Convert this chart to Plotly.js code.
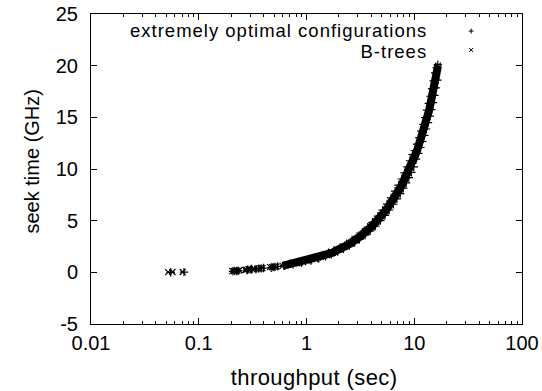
<!DOCTYPE html>
<html>
<head>
<meta charset="utf-8">
<script src="https://cdn.plot.ly/plotly-3.0.1.min.js"></script>
<style>
html,body{margin:0;padding:0;background:#fff;}
#chart{width:542px;height:391px;}
#chart .annotation[data-index="0"] text, #chart .annotation[data-index="1"] text{letter-spacing:1px;}
#chart .annotation[data-index="2"] text{letter-spacing:0.4px;}
</style>
</head>
<body>
<div id="chart"></div>
<script>
// Series names
const seriesNames = ["extremely optimal configurations", "B-trees"];

// "extremely optimal configurations" (+ markers)
const configX = [0.055,0.073,0.208,0.216,0.225,0.232,0.28,0.285,0.305,0.31,0.34,0.36,0.38,0.4,0.47,0.49,0.51,0.54,
  0.62,0.7,0.75,0.85,0.9,0.98,1.1,1.17,1.3,1.4,1.5,1.6,1.7,1.8,1.95,2.05,2.2,2.35,2.5,2.65,2.8,2.95,3.1,3.3,3.5,3.7,3.9,
  4.1,4.35,4.6,4.85,5.1,5.35,5.6,5.85,6.1,6.4,6.65,6.9,7.15,7.4,7.65,7.9,8.15,8.4,8.65,8.9,9.15,9.4,9.65,9.9,
  10.15,10.4,10.65,10.9,11.15,11.4,11.65,11.9,12.15,12.4,12.65,12.9,13.15,13.4,13.65,13.9,14.15,14.4,14.65,14.9,
  15.15,15.4,15.65,15.9,16.1,16.4,16.55];
const configY = [0.0,0.02,0.1,0.14,0.12,0.16,0.2,0.26,0.28,0.32,0.3,0.36,0.38,0.42,0.45,0.5,0.52,0.58,
  0.64,0.83,0.77,1.0,0.93,1.16,1.13,1.38,1.34,1.65,1.55,1.89,1.75,2.12,2.01,2.42,2.27,2.77,2.58,3.13,2.88,3.48,3.19,3.89,3.61,4.37,4.02,
  4.84,4.48,5.43,5.0,6.02,5.51,6.61,6.03,7.2,6.59,7.85,7.11,8.44,7.62,9.03,8.14,9.62,8.65,10.21,9.17,10.8,9.68,11.39,10.2,
  11.79,10.95,12.41,11.51,13.04,12.08,13.67,12.66,14.31,13.25,14.98,13.87,15.69,14.49,16.35,15.11,17.04,15.74,17.77,16.42,
  18.53,17.12,19.31,17.85,19.8,18.6,20.1];

// "B-trees" (x markers); null separates points that are not joined into the dense band
const btreeX = [0.052,null,0.057,null,0.071,null,0.205,null,0.212,null,0.22,null,0.228,null,0.238,null,
  0.27,null,0.277,null,0.29,null,0.298,null,0.315,null,0.325,null,0.35,null,0.37,null,0.39,null,
  0.46,null,0.48,null,0.5,null,0.525,null,
  0.6,0.64,0.68,0.72,0.77,0.82,0.87,0.93,1.0,1.06,1.13,1.2,1.28,1.36,1.45,1.55,1.65,1.75,1.87,2.0,2.12,2.25,2.4,2.55,2.7,2.85,
  3.0,3.2,3.4,3.6,3.8,4.0,4.2,4.45,4.7,4.95,5.2,5.45,5.7,6.0,6.25,6.5,6.75,7.0,7.25,7.5,7.75,8.0,8.25,8.5,8.75,9.0,9.25,9.5,9.75,
  10.0,10.25,10.5,10.75,11.0,11.25,11.5,11.75,12.0,12.25,12.5,12.75,13.0,13.25,13.5,13.75,14.0,14.25,14.5,14.75,15.0,15.25,15.5,15.75,
  16.0,16.25,16.5,16.6];
const btreeY = [0.02,null,0.03,null,0.03,null,0.12,null,0.13,null,0.15,null,0.15,null,0.2,null,
  0.24,null,0.25,null,0.3,null,0.27,null,0.3,null,0.34,null,0.36,null,0.38,null,0.4,null,
  0.5,null,0.5,null,0.55,null,0.56,null,
  0.62,0.7,0.78,0.8,0.88,0.9,0.98,1.0,1.12,1.15,1.28,1.3,1.42,1.5,1.62,1.68,1.85,1.9,2.08,2.2,2.35,2.45,2.68,2.78,3.0,3.1,
  3.35,3.5,3.78,3.95,4.2,4.4,4.65,4.9,5.2,5.45,5.75,6.0,6.3,6.6,6.9,7.15,7.45,7.7,8.0,8.25,8.55,8.8,9.1,9.35,9.65,9.9,10.2,10.5,10.8,
  11.05,11.35,11.65,11.95,12.25,12.55,12.85,13.15,13.45,13.8,14.1,14.4,14.75,15.05,15.4,15.7,16.05,16.4,16.75,17.1,17.45,17.8,18.2,18.55,
  18.95,19.35,19.75,20.0];

// Axis ticks and titles
const xTickVals = [0.01, 0.1, 1, 10, 100];
const xTickText = ["0.01", "0.1", "1", "10", "100"];
const yTickVals = [-5, 0, 5, 10, 15, 20, 25];
const yTickText = ["-5", "0", "5", "10", "15", "20", "25"];
const xTitle = "throughput (sec)";
const yTitle = "seek time (GHz)";

const FONT = "Liberation Sans, Arial, Helvetica, sans-serif";

const traces = [
  {
    x: btreeX, y: btreeY, name: seriesNames[1], type: "scatter", mode: "lines+markers",
    connectgaps: false,
    line: {color: "#000", width: 8},
    marker: {symbol: "x-thin-open", size: 6, color: "#000", line: {color: "#000", width: 1.2}},
    showlegend: false, hoverinfo: "skip"
  },
  {
    x: configX, y: configY, name: seriesNames[0], type: "scatter", mode: "markers",
    marker: {symbol: "cross-thin-open", size: 6, color: "#000", line: {color: "#000", width: 1.2}},
    showlegend: false, hoverinfo: "skip"
  }
];

const axisCommon = {
  showgrid: false, zeroline: false, showline: true, linecolor: "#000", linewidth: 1,
  mirror: "allticks", ticks: "inside", ticklen: 6, tickcolor: "#000", tickwidth: 1,
  tickfont: {family: FONT, size: 20, color: "#000"}
};

// legend key glyphs (paper coordinates)
const px = 1 / 431, py = 1 / 310;
const kx = 0.882, k1 = 0.945, k2 = 0.884;
const keyShapes = [
  {type: "line", xref: "paper", yref: "paper", x0: kx - 2.5 * px, x1: kx + 2.5 * px, y0: k1, y1: k1, line: {color: "#000", width: 1}},
  {type: "line", xref: "paper", yref: "paper", x0: kx, x1: kx, y0: k1 - 2.5 * py, y1: k1 + 2.5 * py, line: {color: "#000", width: 1}},
  {type: "line", xref: "paper", yref: "paper", x0: kx - 2 * px, x1: kx + 2 * px, y0: k2 - 2 * py, y1: k2 + 2 * py, line: {color: "#000", width: 1}},
  {type: "line", xref: "paper", yref: "paper", x0: kx - 2 * px, x1: kx + 2 * px, y0: k2 + 2 * py, y1: k2 - 2 * py, line: {color: "#000", width: 1}}
];

const layout = {
  width: 542, height: 391,
  margin: {l: 91, r: 20, t: 14, b: 67},
  paper_bgcolor: "#fff", plot_bgcolor: "#fff",
  showlegend: false,
  xaxis: Object.assign({}, axisCommon, {
    type: "log", range: [-2, 2], tickmode: "array", tickvals: xTickVals, ticktext: xTickText,
    minor: {ticks: "inside", ticklen: 3, tickcolor: "#000", tickwidth: 1, dtick: "D1", showgrid: false},
    ticklabelstandoff: 1
  }),
  yaxis: Object.assign({}, axisCommon, {
    range: [-5, 25], tickmode: "array", tickvals: yTickVals, ticktext: yTickText,
    ticklabelstandoff: 8
  }),
  shapes: keyShapes,
  annotations: [
    {xref: "paper", yref: "paper", x: 0.7448, y: 0.947, xanchor: "right", yanchor: "middle", showarrow: false, borderpad: 0,
     text: seriesNames[0], font: {family: FONT, size: 18.5, color: "#000"}},
    {xref: "paper", yref: "paper", x: 0.7738, y: 0.878, xanchor: "right", yanchor: "middle", showarrow: false, borderpad: 0,
     text: seriesNames[1], font: {family: FONT, size: 18.5, color: "#000"}},
    {xref: "paper", yref: "paper", x: 0.5174, y: -0.171, xanchor: "center", yanchor: "middle", showarrow: false,
     text: xTitle, font: {family: FONT, size: 22, color: "#000"}},
    {xref: "paper", yref: "paper", x: -0.137, y: 0.524, xanchor: "center", yanchor: "middle", showarrow: false,
     textangle: -90, text: yTitle, font: {family: FONT, size: 20, color: "#000"}}
  ]
};

Plotly.newPlot("chart", traces, layout, {staticPlot: true, displayModeBar: false});
</script>
</body>
</html>
